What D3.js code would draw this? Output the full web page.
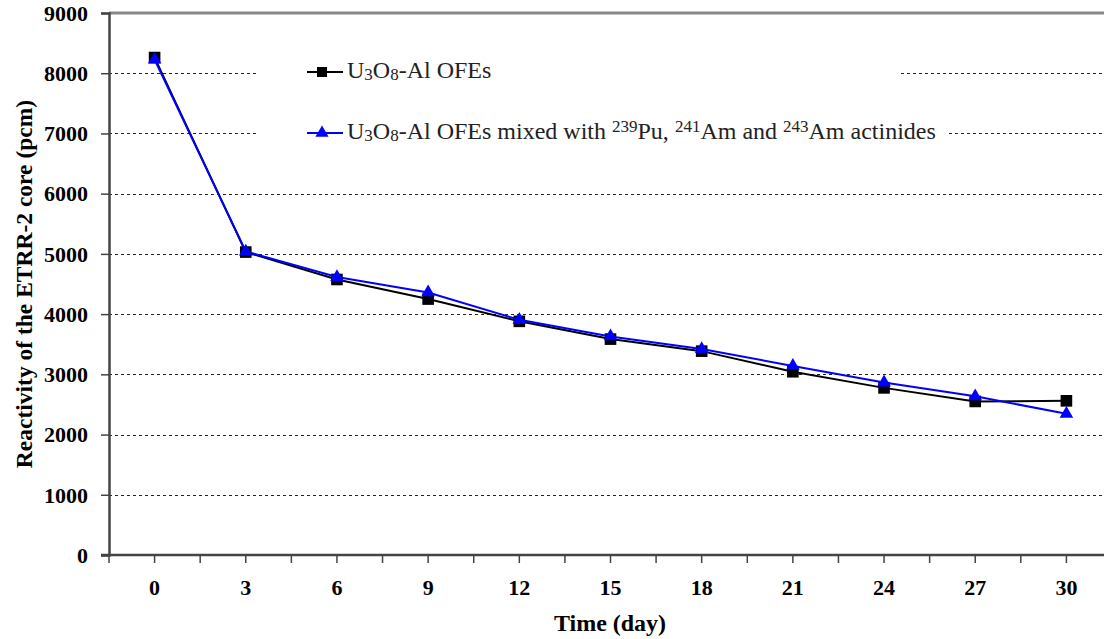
<!DOCTYPE html>
<html>
<head>
<meta charset="utf-8">
<script src="https://cdn.jsdelivr.net/npm/d3@7"></script>
<style>
  html, body { margin: 0; padding: 0; background: #fff; }
  svg { display: block; }
  svg text { font-family: "Liberation Serif", "Times New Roman", serif; }
</style>
</head>
<body>
<svg id="chart" width="1104" height="639"></svg>
<script>
const days = ["0", "3", "6", "9", "12", "15", "18", "21", "24", "27", "30"];
const u3o8 = [8260, 5030, 4575, 4250, 3880, 3585, 3385, 3043, 2775, 2550, 2560];
const u3o8Actinides = [8225, 5040, 4615, 4360, 3905, 3630, 3420, 3140, 2865, 2635, 2345];
const yTicks = [0, 1000, 2000, 3000, 4000, 5000, 6000, 7000, 8000, 9000];

(function () {
const svg = d3.select("#chart");
const pLeft = 109, pTop = 13, pBottom = 555, pRight = 1112;

const x = d3.scaleBand().domain(days).range([pLeft, pRight]).paddingInner(0).paddingOuter(0);
const y = d3.scaleLinear().domain([0, 9000]).range([pBottom, pTop]);

// gridlines
svg.append("g").selectAll("line").data(yTicks.filter(v => v > 0 && v < 9000)).join("line")
  .attr("x1", pLeft).attr("x2", 1104)
  .attr("y1", d => Math.round(y(d)) + 0.5).attr("y2", d => Math.round(y(d)) + 0.5)
  .attr("stroke", "#222").attr("stroke-width", 1).attr("stroke-dasharray", "3,3");

// legend background
svg.append("rect").attr("x", 258).attr("y", 40).attr("width", 640).attr("height", 115).attr("fill", "#fff");
svg.append("rect").attr("x", 898).attr("y", 118).attr("width", 50).attr("height", 30).attr("fill", "#fff");

// top border
svg.append("line").attr("x1", pLeft).attr("x2", 1104).attr("y1", pTop).attr("y2", pTop)
  .attr("stroke", "#888").attr("stroke-width", 3);

// y axis
const yAxis = svg.append("g").attr("transform", `translate(${pLeft},0)`)
  .call(d3.axisLeft(y).tickValues(yTicks).tickSize(8).tickPadding(13).tickFormat(d3.format("d")));
yAxis.attr("font-family", null);
yAxis.select(".domain").attr("stroke", "#444").attr("stroke-width", 2.5);
yAxis.selectAll(".tick line").attr("stroke", "#444").attr("stroke-width", 1.5);
yAxis.selectAll("text").attr("font-weight", "bold")
  .attr("font-size", 22).attr("fill", "#000").attr("dy", "0.33em");

// x axis
const xAxisG = svg.append("g").attr("transform", `translate(0,${pBottom})`);
xAxisG.append("line").attr("x1", pLeft - 8).attr("x2", 1104).attr("y1", 0).attr("y2", 0)
  .attr("stroke", "#444").attr("stroke-width", 2.5);
const tickPos = [];
days.forEach(d => { tickPos.push(x(d)); tickPos.push(x(d) + x.bandwidth() / 2); });
tickPos.push(x(days[days.length - 1]) + x.bandwidth());
xAxisG.selectAll(".xt").data(tickPos.filter(p => p <= 1104)).join("line").attr("class", "xt")
  .attr("x1", d => d).attr("x2", d => d).attr("y1", 0).attr("y2", 8)
  .attr("stroke", "#444").attr("stroke-width", 1.5);
xAxisG.selectAll(".xl").data(days).join("text").attr("class", "xl")
  .attr("x", d => x(d) + x.bandwidth() / 2).attr("y", 40)
  .attr("text-anchor", "middle").attr("font-weight", "bold")
  .attr("font-size", 22).text(d => d);

// axis titles
svg.append("text").attr("x", 610).attr("y", 631).attr("text-anchor", "middle")
  .attr("font-weight", "bold").attr("font-size", 24).text("Time (day)");
svg.append("text").attr("transform", "translate(32,284) rotate(-90)").attr("text-anchor", "middle")
  .attr("font-weight", "bold").attr("font-size", 23.5)
  .text("Reactivity of the ETRR-2 core (pcm)");

// series
const series = [
  { name: "u3o8", values: u3o8, color: "#000", marker: "square" },
  { name: "act", values: u3o8Actinides, color: "#0000ff", marker: "triangle" }
];
const line = d3.line().x((v, i) => x(days[i]) + x.bandwidth() / 2).y(v => y(v));
const sq = d3.symbol().type(d3.symbolSquare).size(135);
const tri = d3.symbol().type(d3.symbolTriangle).size(80);

series.forEach(s => {
  svg.append("path").datum(s.values).attr("d", line).attr("fill", "none")
    .attr("stroke", s.color).attr("stroke-width", 2);
  svg.append("g").selectAll("path").data(s.values).join("path")
    .attr("transform", (v, i) => `translate(${x(days[i]) + x.bandwidth() / 2},${y(v)})`)
    .attr("d", s.marker === "square" ? sq : tri).attr("fill", s.color);
});

// legend
const lg = svg.append("g").attr("font-size", 24).attr("fill", "#222");
const legendRows = [
  { yy: 72, s: series[0] },
  { yy: 133, s: series[1] }
];
legendRows.forEach(r => {
  lg.append("line").attr("x1", 307).attr("x2", 343).attr("y1", r.yy).attr("y2", r.yy)
    .attr("stroke", r.s.color).attr("stroke-width", 2);
  lg.append("path").attr("transform", `translate(322,${r.yy})`)
    .attr("d", r.s.marker === "square" ? d3.symbol().type(d3.symbolSquare).size(100) : d3.symbol().type(d3.symbolTriangle).size(75))
    .attr("fill", r.s.color);
});
function addLabel(yy, parts) {
  const t = lg.append("text").attr("x", 347).attr("y", yy + 6);
  parts.forEach(p => {
    const ts = t.append("tspan").text(p[0]);
    if (p[1] === "sub") ts.attr("font-size", 17).attr("dy", 2);
    else if (p[1] === "sup") ts.attr("font-size", 17).attr("dy", -7);
    else if (p[1] === "back") ts.attr("dy", -2);
    else if (p[1] === "backsup") ts.attr("dy", 7);
  });
}
addLabel(72, [["U"], ["3", "sub"], ["O", "back"], ["8", "sub"], ["-Al OFEs", "back"]]);
addLabel(133, [["U"], ["3", "sub"], ["O", "back"], ["8", "sub"], ["-Al OFEs mixed with ", "back"],
  ["239", "sup"], ["Pu, ", "backsup"], ["241", "sup"], ["Am and ", "backsup"], ["243", "sup"], ["Am actinides", "backsup"]]);
})();
</script>
</body>
</html>
